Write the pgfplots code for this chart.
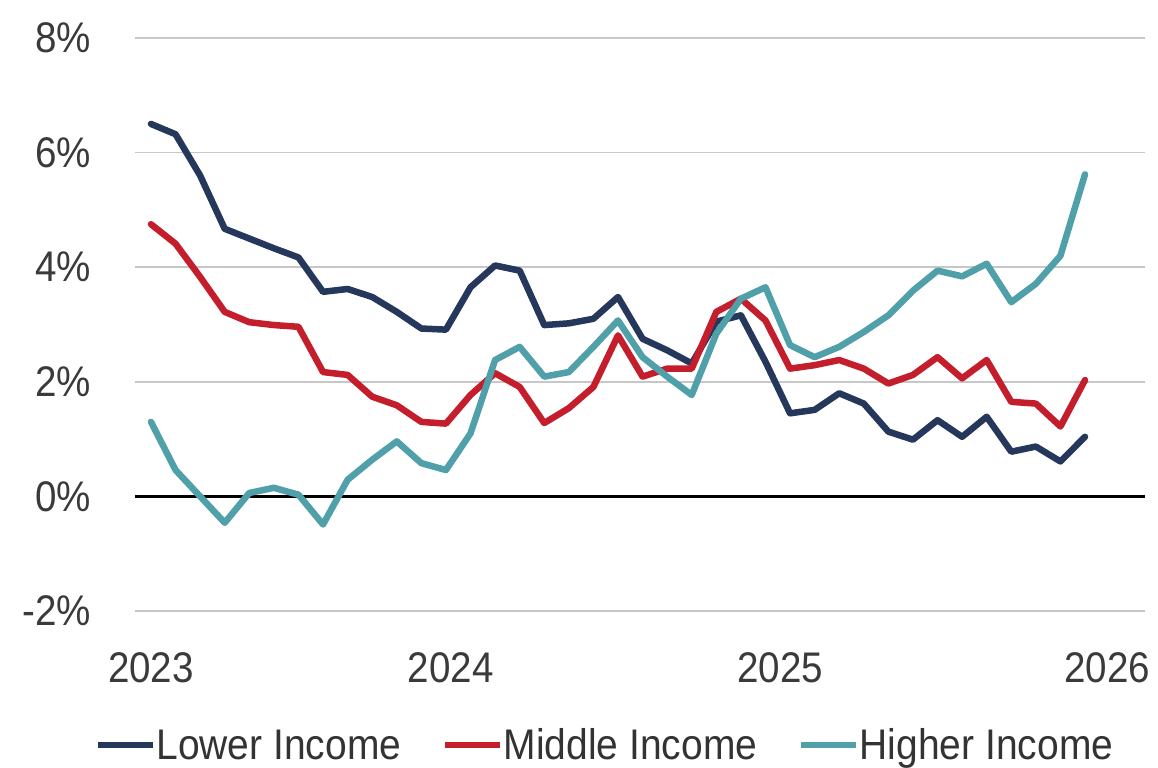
\documentclass[border=0pt]{standalone}
\usepackage{pgfplots}
\pgfplotsset{compat=1.18}
\usepackage{pgfplotstable}
\usepackage{fontspec}
\setmainfont{Liberation Sans}[FakeStretch=0.9]
\newfontfamily\legfont{Liberation Sans}[FakeStretch=0.91]
\definecolor{lowc}{HTML}{25375A}
\definecolor{midc}{HTML}{C41E2D}
\definecolor{highc}{HTML}{50A0AA}
\definecolor{tickc}{HTML}{3A3A3A}
\pgfplotstableread{
i lower middle higher
0 6.50 4.75 1.30
1 6.32 4.41 0.46
2 5.60 3.83 0.00
3 4.67 3.22 -0.46
4 4.50 3.04 0.06
5 4.33 2.99 0.15
6 4.17 2.96 0.03
7 3.57 2.17 -0.49
8 3.62 2.12 0.29
9 3.48 1.74 0.64
10 3.22 1.59 0.96
11 2.93 1.30 0.58
12 2.91 1.27 0.46
13 3.65 1.77 1.10
14 4.03 2.15 2.38
15 3.94 1.91 2.61
16 2.99 1.28 2.09
17 3.02 1.54 2.17
18 3.10 1.91 2.61
19 3.48 2.81 3.07
20 2.75 2.09 2.43
21 2.55 2.23 2.09
22 2.32 2.23 1.77
23 3.05 3.22 2.84
24 3.16 3.45 3.45
25 2.35 3.07 3.65
26 1.45 2.23 2.64
27 1.51 2.29 2.43
28 1.80 2.38 2.61
29 1.62 2.23 2.87
30 1.13 1.97 3.16
31 0.99 2.12 3.59
32 1.33 2.43 3.94
33 1.04 2.06 3.84
34 1.39 2.38 4.06
35 0.78 1.65 3.39
36 0.87 1.62 3.71
37 0.61 1.22 4.20
38 1.04 2.03 5.62
}\datatable
\begin{document}
\begin{tikzpicture}
\useasboundingbox (0,0) rectangle (1158bp,768bp);
\begin{axis}[
  at={(135bp,157bp)}, anchor=south west,
  width=1010bp, height=573bp, scale only axis,
  xmin=-0.65, xmax=40.44, ymin=-2, ymax=8,
  axis line style={draw=none},
  major tick length=0pt,
  ytick={-2,0,2,4,6,8},
  yticklabels={-2\%,0\%,2\%,4\%,6\%,8\%},
  xtick={0,12.2,25.6,38.9},
  xticklabels={2023,2024,2025,2026},
  ymajorgrids,
  grid style={draw=black!22, line width=1.6bp},
  every tick label/.append style={font=\fontsize{43}{48}\selectfont, text=tickc, inner sep=0pt},
  yticklabel style={anchor=east, xshift=-44bp},
  xticklabel style={anchor=north, yshift=-41bp},
  legend columns=3,
  legend style={at={(0.465,-0.234)}, anchor=center, draw=none, fill=none,
    font=\legfont\fontsize{43}{48}\selectfont, text=black!80,
    /tikz/every even column/.append style={column sep=40bp},
    nodes={inner sep=1bp, anchor=west}},
  legend image code/.code={\draw[#1, line width=5.5bp, line cap=butt] (0bp,0bp) -- (55bp,0bp);},
  every axis plot/.append style={line width=6.5bp, line join=round, line cap=round},
]
\addplot[black, line width=2.5bp, line cap=butt, forget plot] coordinates {(-0.65,0) (40.44,0)};
\addplot[lowc] table[x=i, y=lower] {\datatable};
\addlegendentry{Lower Income}
\addplot[midc] table[x=i, y=middle] {\datatable};
\addlegendentry{Middle Income}
\addplot[highc] table[x=i, y=higher] {\datatable};
\addlegendentry{Higher Income}
\end{axis}
\end{tikzpicture}
\end{document}
